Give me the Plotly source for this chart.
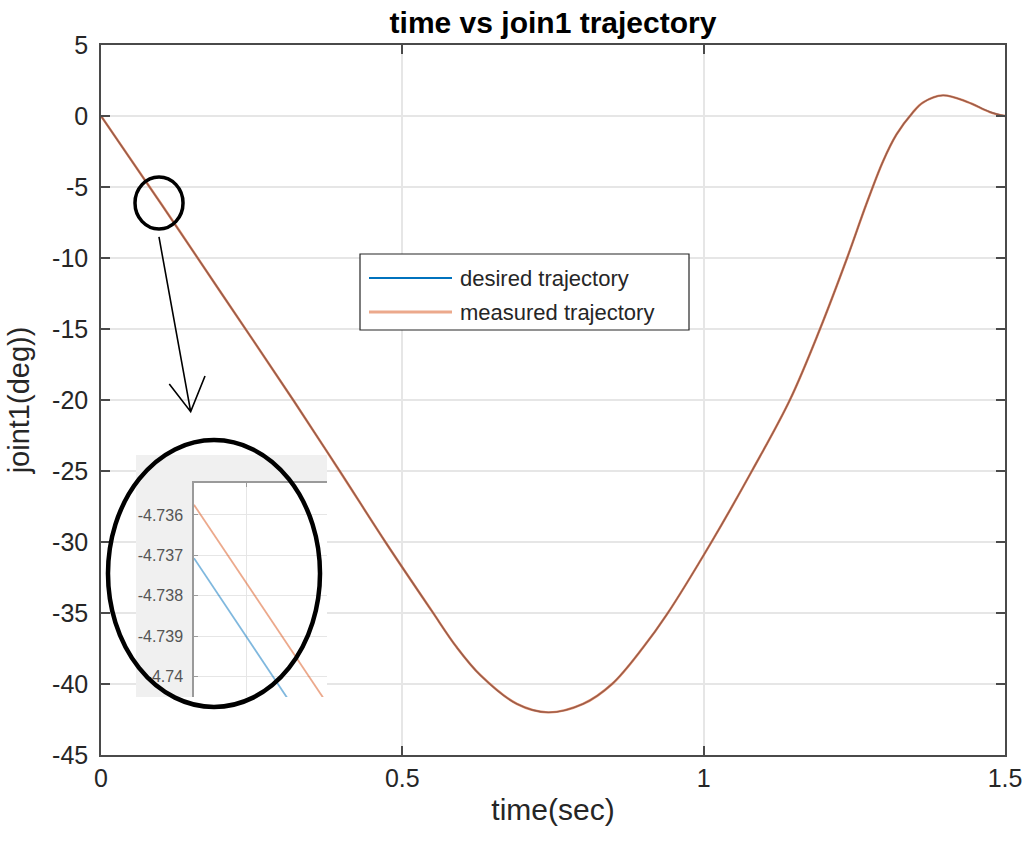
import plotly.graph_objects as go

# ---------------- data ----------------
time_sec = [0, 0.1, 0.2, 0.32, 0.397, 0.473, 0.548, 0.59, 0.63, 0.69, 0.742, 0.80,
            0.848, 0.90, 0.939, 1.013, 1.08, 1.143, 1.193, 1.238, 1.27, 1.2975, 1.32,
            1.347, 1.364, 1.397, 1.437, 1.475, 1.5]
desired_deg = [0, -6.2, -12.5, -20.07, -25.07, -30.07, -34.8, -37.4, -39.4, -41.4,
               -42.0, -41.4, -40.0, -37.4, -35.1, -30.0, -25.0, -20.0, -15.0, -10.0,
               -6.2, -3.2, -1.3, 0.25, 0.95, 1.45, 1.0, 0.28, 0]
measured_deg = [0, -6.2, -12.5, -20.07, -25.07, -30.07, -34.8, -37.4, -39.4, -41.4,
                -42.0, -41.4, -40.0, -37.4, -35.1, -30.0, -25.0, -20.0, -15.0, -10.0,
                -6.2, -3.2, -1.3, 0.25, 0.95, 1.45, 1.0, 0.28, 0]

# zoomed inset (around t ~ 0.0757 s)
inset_time_desired = [0.075700, 0.075760]
inset_desired = [-4.73707, -4.74086]
inset_time_measured = [0.075700, 0.075778]
inset_measured = [-4.73575, -4.74066]

x_ticks = [0, 0.5, 1, 1.5]
x_tick_text = ["0", "0.5", "1", "1.5"]
y_ticks = [5, 0, -5, -10, -15, -20, -25, -30, -35, -40, -45]
y_tick_text = ["5", "0", "-5", "-10", "-15", "-20", "-25", "-30", "-35", "-40", "-45"]
inset_y_ticks = [-4.736, -4.737, -4.738, -4.739, -4.74]
inset_y_text = ["-4.736", "-4.737", "-4.738", "-4.739", "-4.74"]
legend_names = ["desired trajectory", "measured trajectory"]

BLUE = "#0072BD"
ORANGE_A = "rgba(217,83,25,0.7)"
AX = "#4a4a4a"
TXT = "#262626"
GRID = "#e6e6e6"
FONT = "Liberation Sans, Arial, sans-serif"

fig = go.Figure()
fig.add_trace(go.Scatter(x=time_sec, y=desired_deg, mode="lines", name=legend_names[0],
                         line=dict(color=BLUE, width=1.4, shape="spline", smoothing=1.0),
                         xaxis="x", yaxis="y", showlegend=False))
fig.add_trace(go.Scatter(x=time_sec, y=measured_deg, mode="lines", name=legend_names[1],
                         line=dict(color=ORANGE_A, width=2.4, shape="spline", smoothing=1.0),
                         xaxis="x", yaxis="y", showlegend=False))

fig.add_trace(go.Scatter(x=inset_time_desired, y=inset_desired, mode="lines",
                         line=dict(color="rgba(0,114,189,0.5)", width=1.8),
                         xaxis="x3", yaxis="y3", showlegend=False, hoverinfo="skip"))
fig.add_trace(go.Scatter(x=inset_time_measured, y=inset_measured, mode="lines",
                         line=dict(color="rgba(217,83,25,0.5)", width=1.8),
                         xaxis="x3", yaxis="y3", showlegend=False, hoverinfo="skip"))

W, H = 1025, 846
L, R, T, B = 101, 20, 45, 91
pw, ph = W - L - R, H - T - B


def px_x(px):
    return (px - L) / pw


def px_y(py):
    return (H - B - py) / ph


fig.update_layout(
    width=W, height=H,
    margin=dict(l=L, r=R, t=T, b=B),
    paper_bgcolor="white", plot_bgcolor="white",
    font=dict(family=FONT, color=TXT),
    showlegend=False,
    title=dict(text="<b>time vs join1 trajectory</b>", x=px_x(553), xref="paper",
               xanchor="center", y=1 - 22 / H, yref="container", yanchor="middle",
               font=dict(size=30, color="black", family=FONT)),
    xaxis=dict(domain=[0, 1], range=[0, 1.5], tickvals=x_ticks, ticktext=x_tick_text,
               showgrid=True, gridcolor=GRID, gridwidth=1.5, zeroline=False,
               showline=True, linecolor=AX, linewidth=1.5, mirror="ticks",
               ticks="inside", ticklen=9, tickcolor=AX, tickwidth=1.5,
               tickfont=dict(size=25, color=TXT), automargin=False,
               title=dict(text="time(sec)", font=dict(size=30, color=TXT), standoff=8)),
    yaxis=dict(domain=[0, 1], range=[-45, 5], tickvals=y_ticks, ticktext=y_tick_text,
               showgrid=True, gridcolor=GRID, gridwidth=1.5, zeroline=False,
               showline=True, linecolor=AX, linewidth=1.5, mirror="ticks",
               ticks="inside", ticklen=9, tickcolor=AX, tickwidth=1.5,
               tickfont=dict(size=25, color=TXT), ticklabelstandoff=6, automargin=False,
               title=dict(text="joint1(deg))", font=dict(size=29, color=TXT), standoff=14)),
    # background box of the pasted zoom picture
    xaxis2=dict(domain=[px_x(136), px_x(327)], range=[0, 1], visible=False,
                anchor="y2", fixedrange=True),
    yaxis2=dict(domain=[px_y(697), px_y(455)], range=[0, 1], visible=False,
                anchor="x2", fixedrange=True),
    # inset axes
    xaxis3=dict(domain=[px_x(194), px_x(327)], range=[0.075700, 0.075778],
                anchor="y3", side="top", tickvals=[0.075731], showticklabels=False,
                showgrid=True, gridcolor=GRID, zeroline=False,
                showline=True, linecolor="#9a9a9a", linewidth=1.5,
                ticks="inside", ticklen=4, tickcolor="#9a9a9a"),
    yaxis3=dict(domain=[px_y(697), px_y(483)], range=[-4.7405, -4.73521],
                anchor="x3", tickvals=inset_y_ticks, ticktext=inset_y_text,
                showgrid=True, gridcolor=GRID, zeroline=False,
                showline=True, linecolor="#9a9a9a", linewidth=1.5,
                ticks="inside", ticklen=4, tickcolor="#9a9a9a",
                tickfont=dict(size=16, color="#555555"), ticklabelstandoff=6),
)

shapes = [
    # gray frame + white axes area of the zoom picture
    dict(type="rect", xref="x2", yref="y2", x0=0, x1=1, y0=0, y1=1,
         fillcolor="#f0f0f0", line=dict(width=0), layer="below"),
    dict(type="rect", xref="x2", yref="y2", x0=(194 - 136) / 191, x1=1,
         y0=0, y1=(697 - 483) / 242,
         fillcolor="white", line=dict(width=0), layer="below"),
    # big ellipse around the zoom
    dict(type="circle", xref="x", yref="y", x0=0.0116, x1=0.3634, y0=-41.62, y1=-22.82,
         line=dict(color="black", width=4.5), layer="above"),
    # small circle on the curve
    dict(type="circle", xref="x", yref="y", x0=0.0564, x1=0.1361, y0=-7.96, y1=-4.30,
         line=dict(color="black", width=3.5), layer="above"),
    # arrow
    dict(type="path", xref="x", yref="y",
         path="M 0.0962,-8.52 L 0.1488,-20.82 M 0.1133,-18.87 L 0.1488,-20.82 L 0.1726,-18.31",
         line=dict(color="black", width=1.6), layer="above"),
    # manual legend box
    dict(type="rect", xref="paper", yref="paper", x0=px_x(360), x1=px_x(689),
         y0=px_y(330), y1=px_y(254), fillcolor="white",
         line=dict(color=TXT, width=1.2), layer="above"),
    dict(type="line", xref="paper", yref="paper", x0=px_x(369), x1=px_x(452),
         y0=px_y(278), y1=px_y(278), line=dict(color=BLUE, width=1.8), layer="above"),
    dict(type="line", xref="paper", yref="paper", x0=px_x(369), x1=px_x(452),
         y0=px_y(312), y1=px_y(312), line=dict(color="rgba(217,83,25,0.5)", width=3),
         layer="above"),
]
fig.update_layout(shapes=shapes)

for name, py in zip(legend_names, [278, 312]):
    fig.add_annotation(text=name, xref="paper", yref="paper", x=px_x(458), y=px_y(py),
                       xanchor="left", yanchor="middle", showarrow=False,
                       font=dict(size=22, color=TXT, family=FONT))

fig.write_html("out.html")
